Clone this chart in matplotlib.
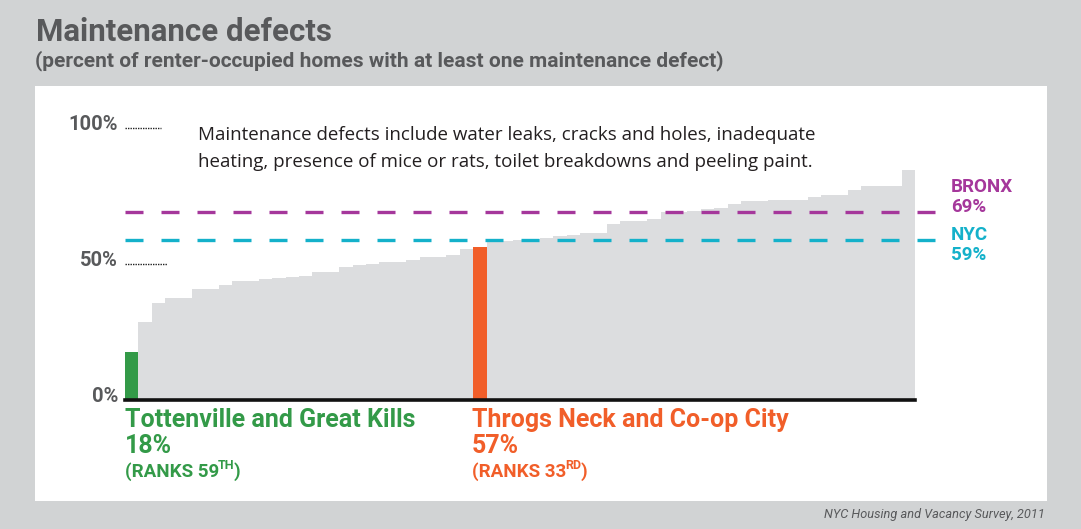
import matplotlib
matplotlib.use("Agg")
import matplotlib.pyplot as plt
from matplotlib import font_manager
from matplotlib.patches import Rectangle
from matplotlib.transforms import offset_copy

# percent of renter-occupied homes with at least one maintenance defect, sorted low -> high
defect_pct = [17.6, 28.7, 35.7, 37.5, 37.5, 40.8, 40.8, 42.3, 43.8, 43.8,
              44.5, 44.9, 45.2, 45.6, 47.1, 47.1, 48.9, 49.6, 50.0, 50.7,
              50.7, 51.4, 52.5, 52.5, 53.2, 55.4, 56.3, 58.1, 58.3, 58.8,
              59.2, 59.4, 60.3, 60.8, 61.5, 61.5, 64.7, 65.8, 65.8, 66.4,
              69.0, 69.2, 69.6, 70.1, 70.7, 72.1, 73.0, 73.0, 73.5, 73.5,
              73.5, 74.6, 75.4, 75.4, 77.2, 78.8, 78.8, 78.8, 84.6]
low_idx = 0       # Tottenville and Great Kills
high_idx = 26     # Throgs Neck and Co-op City
bronx_avg = 69
nyc_avg = 59
y_ticks = [0, 50, 100]
y_tick_labels = ["0%", "50%", "100%"]

BG = "#d1d3d4"
BAR = "#dcdddf"
GREEN = "#339a48"
ORANGE = "#f15e29"
MAGENTA = "#a5379b"
CYAN = "#14b1ca"
GREY_TXT = "#58595b"

names = {f.name for f in font_manager.fontManager.ttflist}
narrow = "Liberation Sans Narrow" if "Liberation Sans Narrow" in names else "Roboto"
plain = "Open Sans" if "Open Sans" in names else "DejaVu Sans"

W, H = 1081, 529
fig = plt.figure(figsize=(W / 100, H / 100), dpi=100, facecolor=BG)


def px(x, y):
    # pixel position (from top-left) -> figure fraction
    return x / W, 1 - y / H


# white panel
fig.patches.append(Rectangle(px(35, 501), (1047 - 35) / W, (501 - 86) / H,
                             transform=fig.transFigure, facecolor="white",
                             edgecolor="none", zorder=-5))

ax = fig.add_axes([125 / W, (H - 400) / H, 790 / W, 272 / H])
ax.set_facecolor("none")
colors = [BAR] * len(defect_pct)
colors[low_idx] = GREEN
colors[high_idx] = ORANGE
ax.bar(range(len(defect_pct)), defect_pct, width=1.0, color=colors, zorder=2)
ax.set_xlim(-0.5, len(defect_pct) - 0.5)
ax.set_ylim(0, 100)
for s in ax.spines.values():
    s.set_visible(False)
ax.set_xticks([])
ax.set_yticks([])
ax.axhline(0, color="#111111", lw=2.6, zorder=4, clip_on=False)

# y labels sit just on their value line, a little below it
ytr = ax.get_yaxis_transform()
lbl_tr = offset_copy(ytr, fig=fig, x=-7, y=-2, units="dots")
for v, lab in zip(y_ticks, y_tick_labels):
    ax.text(0, v, lab, transform=lbl_tr, ha="right", va="baseline",
            fontfamily=narrow, fontweight="bold", fontsize=14.5, color=GREY_TXT)

# small dotted leaders by the 50% and 100% labels
ax.plot([0, 0.046], [100, 100], transform=ytr, color="#222222", lw=1.0,
        ls=(0, (1, 0.8)), clip_on=False)
ax.plot([0, 0.053], [50, 50], transform=ytr, color="#222222", lw=1.0,
        ls=(0, (1, 0.8)), clip_on=False)

# Bronx / NYC averages
line_end = (945 - 125) / 790
ax.axhline(bronx_avg, xmax=line_end, color=MAGENTA, lw=2.4, ls=(0, (5.4, 5.4)),
           clip_on=False, zorder=3)
ax.axhline(nyc_avg, xmax=line_end, color=CYAN, lw=2.4, ls=(0, (5.4, 5.4)),
           clip_on=False, zorder=3)

txt = dict(fontfamily=narrow, fontweight="bold")
fig.text(*px(951, 192), "BRONX", color=MAGENTA, fontsize=13.5, **txt)
fig.text(*px(951, 212), f"{bronx_avg}%", color=MAGENTA, fontsize=13.5, **txt)
fig.text(*px(951, 240), "NYC", color=CYAN, fontsize=13.5, **txt)
fig.text(*px(951, 260), f"{nyc_avg}%", color=CYAN, fontsize=13.5, **txt)

# titles
fig.text(*px(36, 41), "Maintenance defects", color=GREY_TXT, fontsize=22.5, **txt)
fig.text(*px(35, 66), "(percent of renter-occupied homes with at least one maintenance defect)",
         color=GREY_TXT, fontsize=15, **txt)

fig.text(*px(198, 140), "Maintenance defects include water leaks, cracks and holes, inadequate",
         color="#231f20", fontsize=13.5, fontfamily=plain)
fig.text(*px(198, 167), "heating, presence of mice or rats, toilet breakdowns and peeling paint.",
         color="#231f20", fontsize=13.5, fontfamily=plain)

fig.text(*px(1045, 518), "NYC Housing and Vacancy Survey, 2011", color=GREY_TXT,
         fontsize=9.2, fontstyle="italic", fontfamily=narrow, ha="right")

renderer = fig.canvas.get_renderer()


def rank_label(x, y, base, sup, color):
    t = fig.text(*px(x, y), base, color=color, fontsize=13.5, **txt)
    bb = t.get_window_extent(renderer)
    t2 = fig.text((bb.x1 - 1) / W, 1 - (y - 8) / H, sup, color=color, fontsize=9, **txt)
    bb2 = t2.get_window_extent(renderer)
    fig.text((bb2.x1 - 1) / W, 1 - y / H, ")", color=color, fontsize=13.5, **txt)


for x0, name, val, rank, sup, color in [
        (125, "Tottenville and Great Kills", defect_pct[low_idx], 59, "TH", GREEN),
        (472, "Throgs Neck and Co-op City", 57, 33, "RD", ORANGE)]:
    fig.text(*px(x0, 427), name, color=color, fontsize=18, **txt)
    fig.text(*px(x0, 453), f"{round(val)}%", color=color, fontsize=18, **txt)
    rank_label(x0, 477, f"(RANKS {rank}", sup, color)

fig.savefig("out.png", dpi=100, facecolor=BG)
